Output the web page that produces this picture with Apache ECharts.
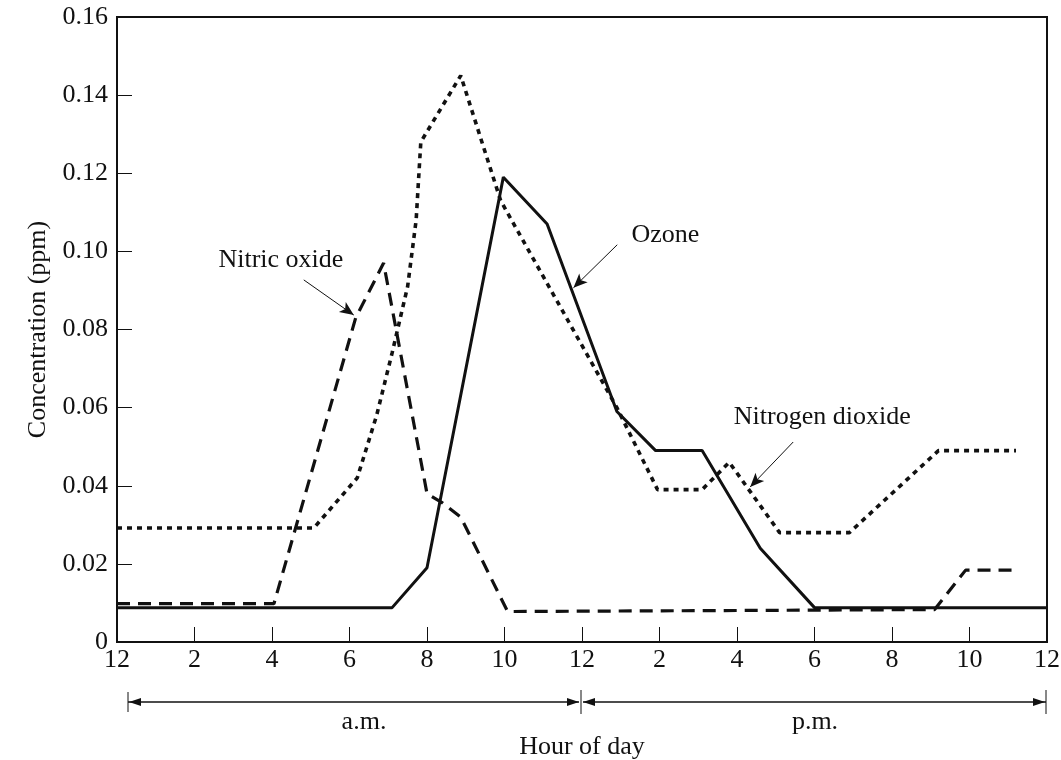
<!DOCTYPE html>
<html><head><meta charset="utf-8">
<script src="https://cdn.jsdelivr.net/npm/echarts@6/dist/echarts.min.js"></script>
<style>html,body{margin:0;padding:0;background:#fff}#c{width:1061px;height:760px}</style>
</head><body><div id="c"></div>
<script>
// tick labels
const hourTicks = ['12','2','4','6','8','10','12','2','4','6','8','10','12'];
// Ozone (solid)
const ozoneHours  = [0, 7.1, 8.0, 9.97, 11.1, 12.9, 13.9, 15.1, 16.6, 18.0, 24];
const ozoneValues = [0.0088, 0.0088, 0.019, 0.119, 0.107, 0.059, 0.049, 0.049, 0.024, 0.0088, 0.0088];
// Nitric oxide (dashed)
const noHours  = [0, 4.05, 6.16, 6.88, 8.0, 8.4, 8.87, 10.08, 21.1, 21.9, 23.2];
const noValues = [0.0098, 0.0098, 0.083, 0.097, 0.038, 0.0356, 0.032, 0.0078, 0.0083, 0.0184, 0.0184];
// Nitrogen dioxide (dotted)
const no2Hours  = [0, 5.08, 6.2, 6.7, 7.1, 7.5, 7.72, 7.84, 8.87, 9.9, 12.9, 13.95, 15.1, 15.8, 17.1, 18.9, 21.2, 23.2];
const no2Values = [0.0292, 0.0292, 0.042, 0.058, 0.074, 0.091, 0.108, 0.128, 0.145, 0.113, 0.060, 0.039, 0.039, 0.046, 0.028, 0.028, 0.049, 0.049];

const pair = (xs, ys) => xs.map((x, i) => [x, ys[i]]);
const FONT = 'Liberation Serif';
const FS = 26;
const INK = '#111';

const chart = echarts.init(document.getElementById('c'));
const arrowLine = (a, b) => [{coord: a, symbol: 'none'}, {coord: b, symbol: 'arrow', symbolSize: [9, 14]}];

chart.setOption({
  animation: false,
  backgroundColor: '#fff',
  grid: {left: 117, right: 14, top: 17, bottom: 118, show: true, borderColor: INK, borderWidth: 2,
         backgroundColor: 'transparent', containLabel: false, outerBoundsMode: 'none'},
  xAxis: {
    type: 'value', min: 0, max: 24, interval: 2,
    name: 'Hour of day', nameLocation: 'middle', nameGap: 92,
    nameTextStyle: {fontFamily: FONT, fontSize: FS, color: INK},
    axisLine: {show: true, lineStyle: {color: INK, width: 2}},
    axisTick: {show: true, inside: true, length: 15, lineStyle: {color: INK, width: 1}},
    axisLabel: {fontFamily: FONT, fontSize: FS, color: INK, margin: 5,
      formatter: v => hourTicks[Math.round(v / 2)]},
    splitLine: {show: false}
  },
  yAxis: {
    type: 'value', min: 0, max: 0.16, interval: 0.02,
    name: 'Concentration (ppm)', nameLocation: 'middle', nameGap: 66, nameRotate: 90,
    nameTextStyle: {fontFamily: FONT, fontSize: FS, color: INK},
    axisLine: {show: true, lineStyle: {color: INK, width: 2}},
    axisTick: {show: true, inside: true, length: 15, lineStyle: {color: INK, width: 1}},
    axisLabel: {fontFamily: FONT, fontSize: FS, color: INK, margin: 9,
      formatter: v => v === 0 ? '0' : v.toFixed(2)},
    splitLine: {show: false}
  },
  series: [
    {name: 'Ozone', type: 'line', data: pair(ozoneHours, ozoneValues), showSymbol: false, symbol: 'none',
     lineStyle: {color: INK, width: 3, type: 'solid'}, z: 3,
     markLine: {silent: true, symbol: ['none', 'arrow'], label: {show: false},
       lineStyle: {color: INK, width: 1, type: 'solid'},
       data: [arrowLine([12.91, 0.1017], [11.78, 0.0907])]}},
    {name: 'Nitric oxide', type: 'line', data: pair(noHours, noValues), showSymbol: false, symbol: 'none',
     lineStyle: {color: INK, width: 3.2, type: [13, 8], cap: 'butt'}, z: 2,
     markLine: {silent: true, symbol: ['none', 'arrow'], label: {show: false},
       lineStyle: {color: INK, width: 1, type: 'solid'},
       data: [arrowLine([4.82, 0.0927], [6.11, 0.0837])]}},
    {name: 'Nitrogen dioxide', type: 'line', data: pair(no2Hours, no2Values), showSymbol: false, symbol: 'none',
     lineStyle: {color: INK, width: 3.6, type: [5, 5], cap: 'butt'}, z: 2,
     markLine: {silent: true, symbol: ['none', 'arrow'], label: {show: false},
       lineStyle: {color: INK, width: 1, type: 'solid'},
       data: [arrowLine([17.45, 0.0512], [16.34, 0.0397])]}}
  ]
});

// annotations and a.m./p.m. span arrows
const px = (h, v) => chart.convertToPixel({gridIndex: 0}, [h, v]);
const labels = [
  {text: 'Nitric oxide', at: [4.23, 0.0978]},
  {text: 'Ozone', at: [14.15, 0.1042]},
  {text: 'Nitrogen dioxide', at: [18.2, 0.0576]}
];
const g = [];
labels.forEach(l => {
  const p = px(l.at[0], l.at[1]);
  g.push({type: 'text', x: p[0], y: p[1], style: {text: l.text, fontFamily: FONT, fontSize: FS, fill: INK, align: 'center', verticalAlign: 'middle'}});
});
const yA = 702;
const x0 = px(0, 0)[0] + 11, x12 = px(12, 0)[0] - 1, x24 = px(24, 0)[0] - 1;
const tri = (tip, dir) => ({type: 'polygon', shape: {points: [[tip, yA], [tip - dir * 12, yA - 4], [tip - dir * 12, yA + 4]]}, style: {fill: INK}});
g.push({type: 'line', shape: {x1: x0, y1: yA - 10, x2: x0, y2: yA + 10}, style: {stroke: INK, lineWidth: 1}});
g.push({type: 'line', shape: {x1: x12, y1: yA - 12, x2: x12, y2: yA + 12}, style: {stroke: INK, lineWidth: 1}});
g.push({type: 'line', shape: {x1: x24, y1: yA - 12, x2: x24, y2: yA + 12}, style: {stroke: INK, lineWidth: 1}});
g.push({type: 'line', shape: {x1: x0, y1: yA, x2: x12 - 2, y2: yA}, style: {stroke: INK, lineWidth: 1.3}});
g.push({type: 'line', shape: {x1: x12 + 2, y1: yA, x2: x24, y2: yA}, style: {stroke: INK, lineWidth: 1.3}});
g.push(tri(x0 + 1, -1), tri(x12 - 2, 1), tri(x12 + 2, -1), tri(x24 - 1, 1));
g.push({type: 'text', x: 364, y: 722, style: {text: 'a.m.', fontFamily: FONT, fontSize: FS, fill: INK, align: 'center', verticalAlign: 'middle'}});
g.push({type: 'text', x: 815, y: 722, style: {text: 'p.m.', fontFamily: FONT, fontSize: FS, fill: INK, align: 'center', verticalAlign: 'middle'}});
chart.setOption({graphic: g});
</script>
</body></html>
